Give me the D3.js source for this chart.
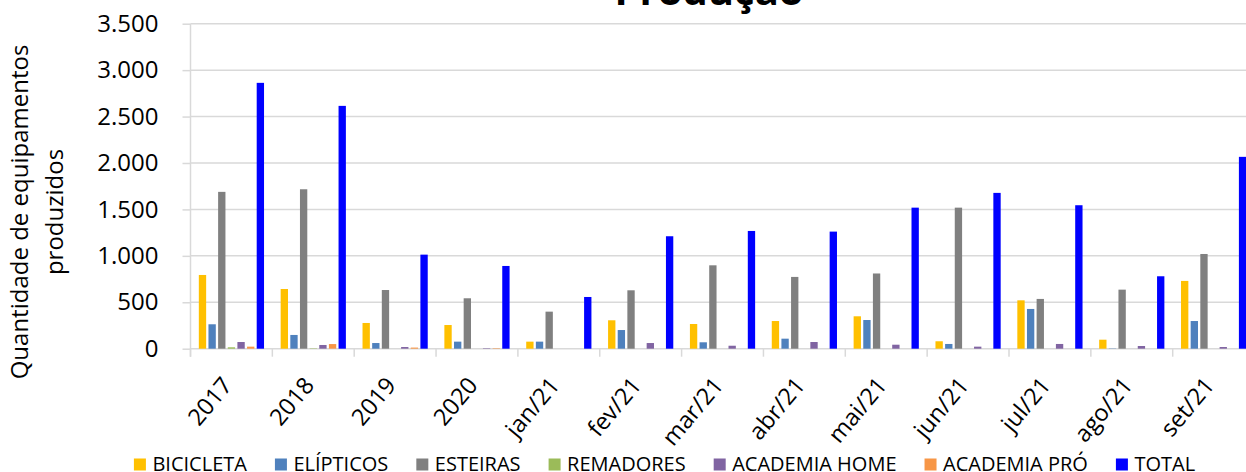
<!DOCTYPE html>
<html>
<head>
<meta charset="utf-8">
<script src="https://cdn.jsdelivr.net/npm/d3@7"></script>
<style>
  body { margin: 0; background: #fff; }
  svg { display: block; font-family: "Open Sans", sans-serif; }
</style>
</head>
<body>
<div id="container"></div>
<script>
/* DATA */
const categories = ["2017", "2018", "2019", "2020", "jan/21", "fev/21", "mar/21", "abr/21", "mai/21", "jun/21", "jul/21", "ago/21", "set/21"];
const seriesNames = ["BICICLETA", "ELÍPTICOS", "ESTEIRAS", "REMADORES", "ACADEMIA HOME", "ACADEMIA PRÓ", "TOTAL"];
const bicicleta    = [794, 643, 277, 255, 76, 306, 266, 298, 349, 80, 521, 97, 730];
const elipticos    = [263, 148, 61, 76, 76, 201, 69, 108, 309, 51, 428, 3, 298];
const esteiras     = [1689, 1717, 632, 543, 399, 629, 898, 773, 810, 1519, 536, 636, 1020];
const remadores    = [15, 4, 0, 0, 0, 0, 0, 0, 0, 0, 0, 0, 0];
const academiaHome = [72, 40, 18, 5, 0, 61, 32, 72, 43, 22, 51, 29, 18];
const academiaPro  = [22, 50, 12, 5, 0, 0, 0, 0, 0, 0, 0, 0, 0];
const total        = [2863, 2615, 1013, 891, 557, 1211, 1268, 1261, 1519, 1678, 1545, 780, 2066];
const yTicks = [0, 500, 1000, 1500, 2000, 2500, 3000, 3500];
const colors = ["#FFC000", "#4F81BD", "#808080", "#9BBB59", "#8064A2", "#F79646", "#0000FF"];

const seriesValues = [bicicleta, elipticos, esteiras, remadores, academiaHome, academiaPro, total];

/* CONSTANTS */
const width = 1246, height = 472;
const plotLeft = 190.5, step = 81.85;
const plotTop = 23.7, plotBottom = 348.7;
const gridColor = "#d9d9d9";

const svg = d3.select("#container")
  .append("svg")
  .attr("width", width)
  .attr("height", height);

// SCALES
const x0 = d3.scaleBand()
  .domain(categories)
  .range([plotLeft, plotLeft + step * categories.length])
  .paddingInner(0.175)
  .paddingOuter(0.0875);

const x1 = d3.scaleBand()
  .domain(seriesNames)
  .range([0, x0.bandwidth()])
  .paddingInner(0.24)
  .paddingOuter(0.12);

const y = d3.scaleLinear()
  .domain([0, 3500])
  .range([plotBottom, plotTop]);

const fmt = d3.formatLocale({ decimal: ",", thousands: ".", grouping: [3], currency: ["R$", ""] }).format(",d");

// GRIDLINES
svg.append("g")
  .selectAll("line")
  .data(yTicks)
  .join("line")
  .attr("x1", plotLeft)
  .attr("x2", width)
  .attr("y1", d => y(d))
  .attr("y2", d => y(d))
  .attr("stroke", gridColor)
  .attr("stroke-width", 1.5);

// Y AXIS
const yAxis = d3.axisLeft(y)
  .tickValues(yTicks)
  .tickFormat(fmt)
  .tickSize(8)
  .tickPadding(24);

const yAxisGroup = svg.append("g")
  .attr("transform", `translate(${plotLeft},0)`)
  .call(yAxis);
yAxisGroup.select(".domain").attr("stroke", gridColor).attr("stroke-width", 1.5)
  .attr("d", `M0,${plotTop}V${plotBottom + 8}`);
yAxisGroup.selectAll(".tick line").attr("stroke", gridColor).attr("stroke-width", 1.5);
yAxisGroup.selectAll(".tick text")
  .attr("font-size", 24)
  .attr("font-family", "Open Sans")
  .attr("fill", "#000");

// X AXIS category ticks
svg.append("g")
  .selectAll("line")
  .data(d3.range(categories.length + 1))
  .join("line")
  .attr("x1", i => plotLeft + i * x0.step())
  .attr("x2", i => plotLeft + i * x0.step())
  .attr("y1", plotBottom)
  .attr("y2", plotBottom + 8)
  .attr("stroke", gridColor)
  .attr("stroke-width", 1.5);

// BARS
const groups = svg.append("g")
  .selectAll("g")
  .data(categories)
  .join("g")
  .attr("transform", d => `translate(${x0(d)},0)`);

groups.selectAll("rect")
  .data((c, ci) => seriesNames.map((s, si) => ({ s, si, v: seriesValues[si][ci] })))
  .join("rect")
  .attr("x", d => x1(d.s))
  .attr("width", x1.bandwidth())
  .attr("y", d => y(d.v))
  .attr("height", d => y(0) - y(d.v))
  .attr("fill", d => colors[d.si]);

// X LABELS
svg.append("g")
  .selectAll("text")
  .data(categories)
  .join("text")
  .attr("transform", d => `translate(${x0(d) + x0.bandwidth() / 2 + 2},386) rotate(-50)`)
  .attr("text-anchor", "end")
  .attr("font-size", 23.5)
  .attr("fill", "#000")
  .text(d => d);

// TITLE
svg.append("text")
  .attr("x", 709)
  .attr("y", 5)
  .attr("text-anchor", "middle")
  .attr("font-size", 40)
  .attr("font-weight", "bold")
  .attr("fill", "#000")
  .text("Produção");

// Y TITLE
const yTitle = svg.append("text")
  .attr("transform", "translate(0,212) rotate(-90)")
  .attr("text-anchor", "middle")
  .attr("font-size", 24)
  .attr("fill", "#000");
yTitle.append("tspan").attr("x", 0).attr("y", 28).text("Quantidade de equipamentos");
yTitle.append("tspan").attr("x", 0).attr("y", 63).text("produzidos");

// LEGEND
const legend = svg.append("g");
let lx = 0;
seriesNames.forEach((name, i) => {
  const item = legend.append("g").attr("transform", `translate(${lx},0)`);
  item.append("rect")
    .attr("x", 0).attr("y", 458.5)
    .attr("width", 12).attr("height", 12)
    .attr("fill", colors[i]);
  const t = item.append("text")
    .attr("x", 18.5).attr("y", 470.5)
    .attr("font-size", 20)
    .attr("fill", "#000")
    .text(name);
  lx += 18.5 + t.node().getComputedTextLength() + 28;
});
const legendWidth = lx - 28;
legend.attr("transform", `translate(${664.5 - legendWidth / 2},0)`);
</script>
</body>
</html>
